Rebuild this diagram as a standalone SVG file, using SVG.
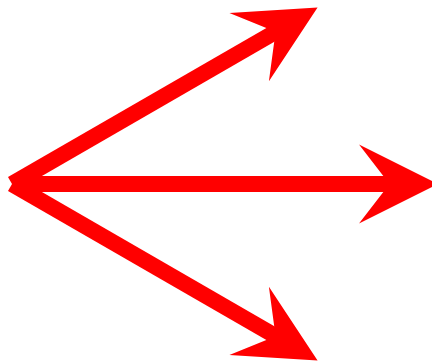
<svg xmlns="http://www.w3.org/2000/svg" width="432" height="362" viewBox="0 0 432 362">
  <style>
    .shaft { stroke: #ff0000; stroke-width: 16; fill: none; stroke-linecap: butt; }
  </style>
  <defs>
    <marker id="head" markerUnits="userSpaceOnUse" orient="auto" refX="-45" refY="0" markerWidth="1" markerHeight="1" overflow="visible">
      <path d="M0,0 L-79,-39.5 L-48.5,0 L-79,39.5 Z" fill="#ff0000"/>
    </marker>
  </defs>
  <rect width="432" height="362" fill="#ffffff"/>
  <g id="connectors">
    <line id="arrow-up" class="shaft" x1="12" y1="184" x2="278.6" y2="30.1" marker-end="url(#head)"/>
    <line id="arrow-right" class="shaft" x1="12" y1="184" x2="393" y2="184" marker-end="url(#head)"/>
    <line id="arrow-down" class="shaft" x1="12" y1="184" x2="278.6" y2="337.9" marker-end="url(#head)"/>
  </g>
</svg>
